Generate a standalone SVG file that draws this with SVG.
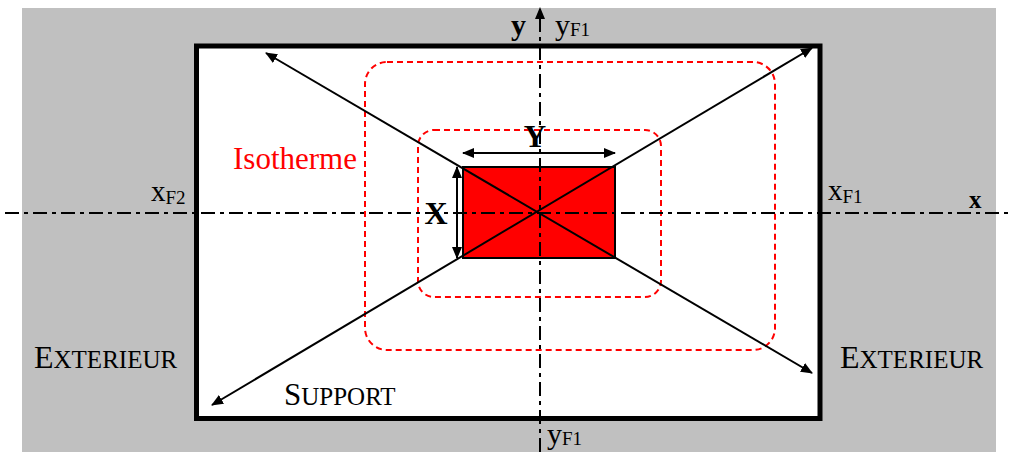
<svg xmlns="http://www.w3.org/2000/svg" width="1016" height="455" viewBox="0 0 1016 455">
<style>
.t{font-family:"Liberation Serif","Times New Roman",serif;fill:#000}
.b{font-weight:bold}
.axis{stroke:#000;stroke-width:2;fill:none;stroke-dasharray:14 5 4 5}
.iso{stroke:#f00;stroke-width:2;fill:none;stroke-dasharray:6 4}
.ln{stroke:#000;stroke-width:2;fill:none}
</style>
<defs>
<marker id="ah" viewBox="0 0 12 10" refX="11" refY="5" markerWidth="12" markerHeight="10" markerUnits="userSpaceOnUse" orient="auto-start-reverse">
<path d="M0,0 L12,5 L0,10 z" fill="#000"/>
</marker>
</defs>
<rect x="22" y="8" width="974" height="444" fill="#c0c0c0"/>
<g id="support">
<rect x="196.5" y="46" width="623.5" height="372.5" fill="#fff" stroke="#000" stroke-width="5"/>
<text class="t" x="284" y="405"><tspan font-size="31">S</tspan><tspan font-size="25">UPPORT</tspan></text>
</g>
<g id="isotherms">
<rect x="365" y="62" width="410" height="288" rx="22" class="iso"/>
<rect x="418" y="130" width="243" height="167" rx="16" class="iso"/>
<text x="233" y="169" font-family="Liberation Serif,serif" font-size="31" fill="#f00">Isotherme</text>
</g>
<g id="source">
<rect x="463" y="167" width="152" height="91" fill="#f00" stroke="#000" stroke-width="2"/>
</g>
<g id="connectors">
<line class="axis" x1="5" y1="213" x2="1012" y2="213"/>
<line class="axis" x1="540" y1="452" x2="540" y2="8" marker-end="url(#ah)"/>
<line class="ln" x1="266" y1="53" x2="812" y2="373" marker-start="url(#ah)" marker-end="url(#ah)"/>
<line class="ln" x1="212" y1="405" x2="812" y2="48" marker-start="url(#ah)" marker-end="url(#ah)"/>
<line class="ln" x1="463" y1="153" x2="615" y2="153" marker-start="url(#ah)" marker-end="url(#ah)"/>
<line class="ln" x1="457" y1="167" x2="457" y2="258" marker-start="url(#ah)" marker-end="url(#ah)"/>
</g>
<g id="labels">
<text class="t b" x="535" y="147" font-size="31" text-anchor="middle">Y</text>
<text class="t b" x="436" y="224" font-size="32" text-anchor="middle">X</text>
<text class="t b" x="511" y="35" font-size="30">y</text>
<text class="t" x="555" y="35" font-size="30">y<tspan font-size="19" dy="1">F1</tspan></text>
<text class="t" x="547" y="444" font-size="30">y<tspan font-size="19" dy="1">F1</tspan></text>
<text class="t" x="151" y="201" font-size="29">x<tspan font-size="19" dy="3">F2</tspan></text>
<text class="t" x="828" y="200" font-size="29">x<tspan font-size="19" dy="3">F1</tspan></text>
<text class="t b" x="969" y="208" font-size="25">x</text>
<text class="t" x="34" y="368"><tspan font-size="32">E</tspan><tspan font-size="25">XTERIEUR</tspan></text>
<text class="t" x="840" y="368"><tspan font-size="32">E</tspan><tspan font-size="25">XTERIEUR</tspan></text>
</g>
</svg>
